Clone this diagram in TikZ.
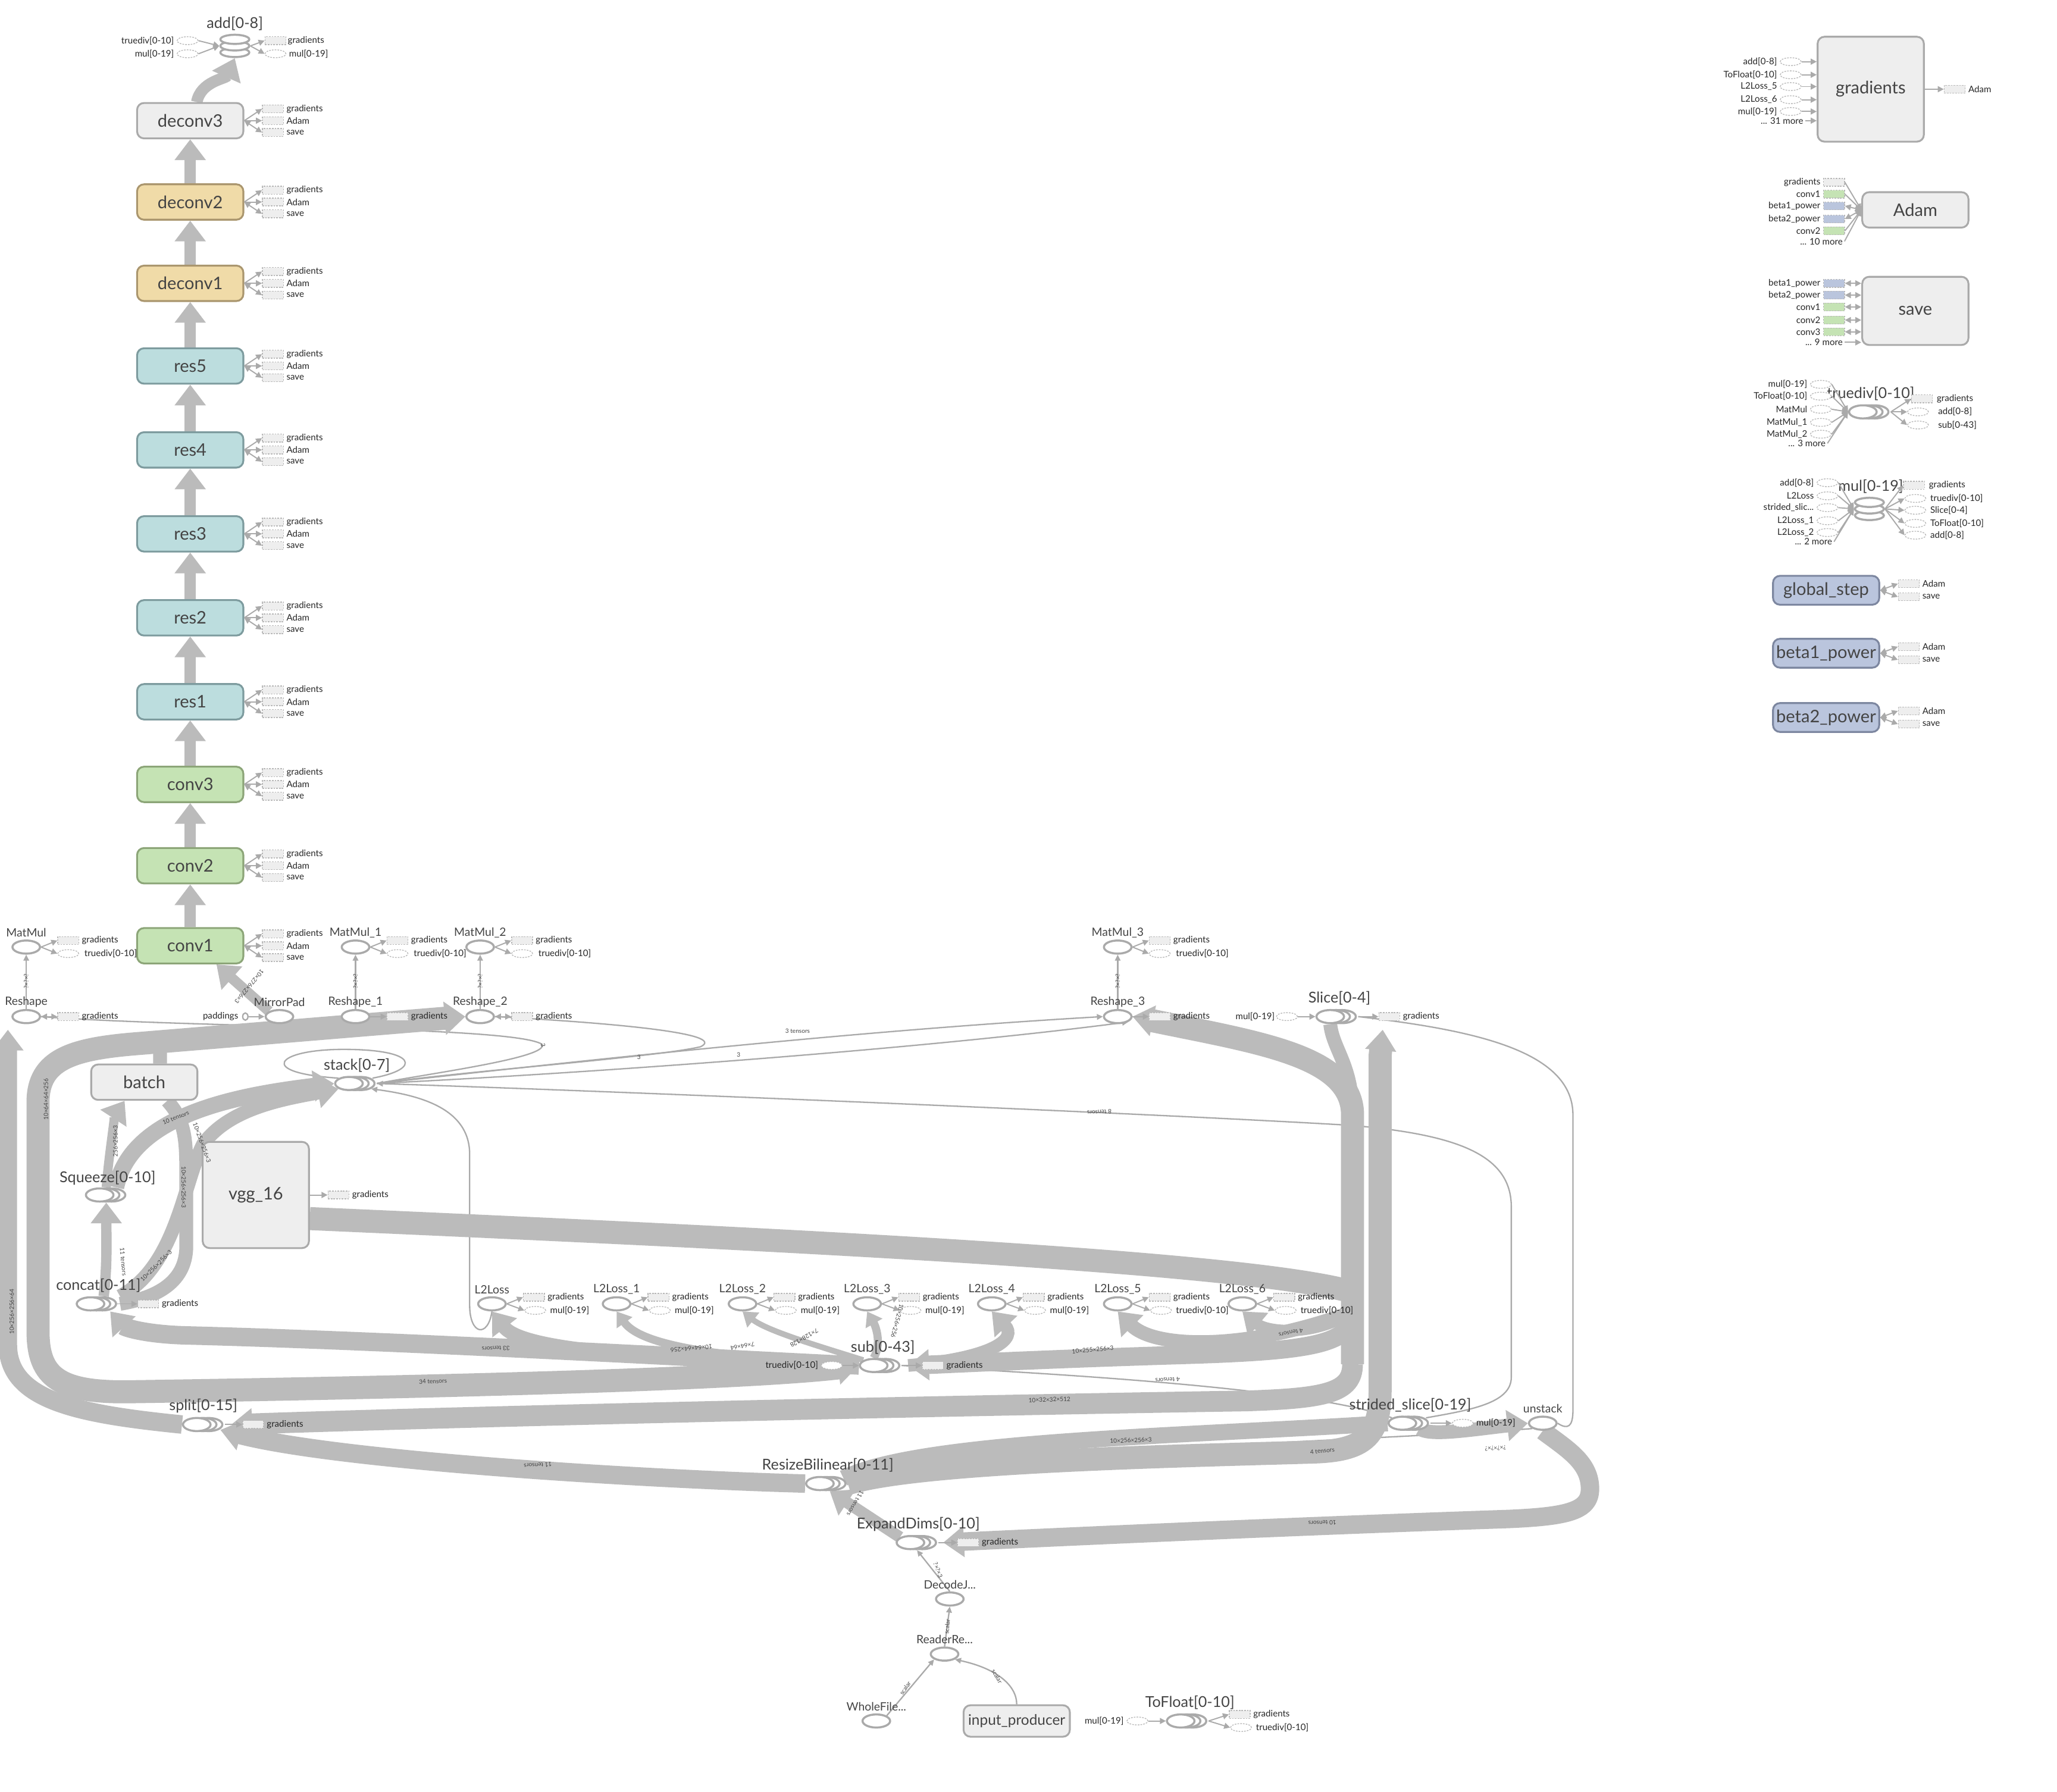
\documentclass[tikz,border=0pt]{standalone}
\usepackage{fontspec}
\setmainfont{Lato}
\usetikzlibrary{arrows.meta,shapes.geometric,backgrounds}

\definecolor{edgecol}{RGB}{187,187,187}
\definecolor{linecol}{RGB}{170,170,170}
\definecolor{boxfill}{RGB}{238,238,238}
\definecolor{boxdraw}{RGB}{170,170,170}
\definecolor{convfill}{RGB}{197,227,180}
\definecolor{convdraw}{RGB}{140,165,120}
\definecolor{tanfill}{RGB}{240,219,168}
\definecolor{tandraw}{RGB}{170,150,110}
\definecolor{resfill}{RGB}{188,221,222}
\definecolor{resdraw}{RGB}{125,155,158}
\definecolor{varfill}{RGB}{186,197,221}
\definecolor{vardraw}{RGB}{125,135,160}
\definecolor{txt}{RGB}{68,68,68}
\definecolor{stubdraw}{RGB}{185,185,185}

% op with a series look (three rings)
\newcommand{\opser}[2]{%
  \node[op, xshift=0.18cm] at (#2) {};
  \node[op, xshift=0.09cm] at (#2) {};
  \node[op] (#1) at (#2) {};}
% op with a stacked look
\newcommand{\opcyl}[2]{%
  \node[op, minimum width=0.44cm, minimum height=0.14cm, yshift=-0.1cm] at (#2) {};
  \node[op, minimum width=0.44cm, minimum height=0.14cm] at (#2) {};
  \node[op, minimum width=0.44cm, minimum height=0.14cm, yshift=0.1cm] at (#2) {};
  \node[minimum width=0.46cm, minimum height=0.36cm, inner sep=0pt] (#1) at (#2) {};}

\begin{document}
\begin{tikzpicture}[x=0.02cm, y=-0.02cm,
  box/.style={rectangle, rounded corners=3pt, draw=boxdraw, fill=boxfill, line width=0.8pt,
    minimum width=1.62cm, minimum height=0.54cm, inner sep=0pt, text=txt, font=\fontsize{7.5}{8}\selectfont},
  op/.style={ellipse, draw=linecol, fill=white, line width=0.9pt, minimum width=0.42cm,
    minimum height=0.2cm, inner sep=0pt},
  oplbl/.style={text=txt, font=\fontsize{6.5}{7}\selectfont, inner sep=0pt},
  oplbls/.style={text=txt, font=\fontsize{5}{6}\selectfont, inner sep=0pt},
  stublbl/.style={text=black!85, font=\fontsize{3.9}{4.5}\selectfont, inner sep=0.6pt},
  stubbox/.style={rectangle, draw=stubdraw, dash pattern=on 0.7pt off 0.5pt, fill=boxfill,
    line width=0.35pt, minimum width=0.32cm, minimum height=0.12cm, inner sep=0pt},
  stubop/.style={ellipse, draw=stubdraw, dash pattern=on 0.7pt off 0.5pt, fill=white,
    line width=0.35pt, minimum width=0.32cm, minimum height=0.12cm, inner sep=0pt},
  band/.style={draw=edgecol, line width=#1},
  bigtip/.style={arrows={-Triangle[length=9pt,width=13pt]}},
  midtip/.style={arrows={-Triangle[length=6pt,width=8pt]}},
  bothtip/.style={arrows={Triangle[length=9pt,width=14pt]-Triangle[length=9pt,width=14pt]}},
  thinline/.style={draw=linecol, line width=0.6pt},
  thintip/.style={arrows={-Triangle[length=2.6pt,width=2.4pt]}},
  backtip/.style={arrows={Triangle[length=2.6pt,width=2.4pt]-}},
  stubarrow/.style={draw=linecol, line width=0.5pt, arrows={-Triangle[length=2.6pt,width=2.6pt]}},
  stubboth/.style={draw=linecol, line width=0.5pt,
    arrows={Triangle[length=2.6pt,width=2.6pt]-Triangle[length=2.6pt,width=2.6pt]}},
  elbl/.style={text=txt, font=\fontsize{2.6}{3}\selectfont, inner sep=0pt}]

\useasboundingbox (0,0) rectangle (1568,1366);

% Layer column
\foreach \n/\y/\f/\d in {conv1/721/convfill/convdraw, conv2/660/convfill/convdraw,
    conv3/598/convfill/convdraw, res1/535/resfill/resdraw, res2/471/resfill/resdraw,
    res3/407/resfill/resdraw, res4/343/resfill/resdraw, res5/279/resfill/resdraw,
    deconv1/216/tanfill/tandraw, deconv2/154/tanfill/tandraw, deconv3/92/boxfill/boxdraw} {
  \node[box, fill=\f, draw=\d] (\n) at (145,\y) {\n};
  \node[stubbox] (\n-g) at (208,\y-9) {};
  \node[stubbox] (\n-a) at (208,\y) {};
  \node[stubbox] (\n-s) at (208,\y+9) {};
  \node[stublbl, anchor=west] at (217,\y-9) {gradients};
  \node[stublbl, anchor=west] at (217,\y) {Adam};
  \node[stublbl, anchor=west] at (217,\y+9) {save};
  \draw[stubarrow] (\n.east) -- (\n-g.west);
  \draw[stubarrow] (\n.east) -- (\n-a.west);
  \draw[stubboth] (\n.east) -- (\n-s.west);
}

% add
\node[oplbl] at (179,18) {add[0-8]};
\opcyl{add}{179,35}
\node[stubop] (add-i1) at (143,31) {};
\node[stubop] (add-i2) at (143,41) {};
\node[stublbl, anchor=east] at (134,31) {truediv[0-10]};
\node[stublbl, anchor=east] at (134,41) {mul[0-19]};
\node[stubbox] (add-o1) at (210,31) {};
\node[stubop] (add-o2) at (210,41) {};
\node[stublbl, anchor=west] at (218,31) {gradients};
\node[stublbl, anchor=west] at (219,41) {mul[0-19]};
\draw[stubarrow] (add-i1.east) -- (add.west);
\draw[stubarrow] (add-i2.east) -- (add.west);
\draw[stubarrow] (add.east) -- (add-o1.west);
\draw[stubarrow] (add.east) -- (add-o2.west);

% gradients
\node[box, minimum height=1.6cm] (gradients) at (1426,68) {gradients};
\foreach \t/\y [count=\i] in {add[0-8]/47, ToFloat[0-10]/57, L2Loss\_5/66, L2Loss\_6/76, mul[0-19]/85} {
  \node[stubop] (gin\i) at (1365,\y) {};
  \node[stublbl, anchor=east] at (1356,\y) {\t};
  \draw[stubarrow] (gin\i.east) -- (gradients.west |- gin\i);
}
\node[stublbl, anchor=east] (gmore) at (1376,92) {... 31 more};
\draw[stubarrow] (gmore.east) -- (gradients.west |- gmore);
\node[stubbox] (gout) at (1490,68) {};
\node[stublbl, anchor=west] at (1499,68) {Adam};
\draw[stubarrow] (gradients.east) -- (gout.west);

% Adam
\node[box] (Adam) at (1460,160) {Adam};
\foreach \t/\y/\f/\s [count=\i] in {gradients/139/boxfill/stubarrow, conv1/148/convfill/stubarrow,
    beta1\_power/157/varfill/stubboth, beta2\_power/167/varfill/stubboth, conv2/176/convfill/stubarrow} {
  \node[stubbox, fill=\f] (ain\i) at (1398,\y) {};
  \node[stublbl, anchor=east] at (1389,\y) {\t};
  \draw[\s] (ain\i.east) -- (Adam.west);
}
\node[stublbl, anchor=east] (amore) at (1406,184) {... 10 more};
\draw[stubarrow] (amore.east) -- (Adam.west);

% save
\node[box, minimum height=1.04cm] (save) at (1460,237) {save};
\foreach \t/\y/\f [count=\i] in {beta1\_power/216/varfill, beta2\_power/225/varfill, conv1/234/convfill,
    conv2/244/convfill, conv3/253/convfill} {
  \node[stubbox, fill=\f] (sin\i) at (1398,\y) {};
  \node[stublbl, anchor=east] at (1389,\y) {\t};
  \draw[stubboth] (sin\i.east) -- (save.west |- sin\i);
}
\node[stublbl, anchor=east] (smore) at (1406,261) {... 9 more};
\draw[stubarrow] (smore.east) -- (save.west |- smore);

% truediv
\node[oplbl] at (1426,300) {truediv[0-10]};
\opser{truediv}{1420,314}
\foreach \t/\y [count=\i] in {mul[0-19]/293, ToFloat[0-10]/302, MatMul/312, MatMul\_1/322, MatMul\_2/331} {
  \node[stubop] (tin\i) at (1388,\y) {};
  \node[stublbl, anchor=east] at (1379,\y) {\t};
  \draw[stubarrow] (tin\i.east) -- (truediv.west);
}
\node[stublbl, anchor=east] (tmore) at (1393,338) {... 3 more};
\draw[stubarrow] (tmore.east) -- (truediv.west);
\node[stubbox] (tout1) at (1465,304) {};
\node[stubop] (tout2) at (1462,314) {};
\node[stubop] (tout3) at (1462,324) {};
\node[stublbl, anchor=west] at (1475,304) {gradients};
\node[stublbl, anchor=west] at (1476,314) {add[0-8]};
\node[stublbl, anchor=west] at (1476,324) {sub[0-43]};
\foreach \i in {1,2,3} \draw[stubarrow] ([xshift=0.2cm]truediv.east) -- (tout\i.west);

% mul
\node[oplbl] at (1426,371) {mul[0-19]};
\opcyl{mul}{1425,388}
\foreach \t/\y [count=\i] in {add[0-8]/368, L2Loss/378, {strided\_slic...}/387, L2Loss\_1/397, L2Loss\_2/406} {
  \node[stubop] (min\i) at (1393,\y) {};
  \node[stublbl, anchor=east] at (1384,\y) {\t};
  \draw[stubarrow] (min\i.east) -- (mul.west);
}
\node[stublbl, anchor=east] (mmore) at (1398,413) {... 2 more};
\draw[stubarrow] (mmore.east) -- (mul.west);
\node[stubbox] (mout1) at (1459,370) {};
\node[stublbl, anchor=west] at (1469,370) {gradients};
\foreach \t/\y [count=\i from 2] in {truediv[0-10]/380, Slice[0-4]/389, ToFloat[0-10]/399, add[0-8]/408} {
  \node[stubop] (mout\i) at (1460,\y) {};
  \node[stublbl, anchor=west] at (1470,\y) {\t};
}
\foreach \i in {1,...,5} \draw[stubarrow] (mul.east) -- (mout\i.west);

% variables
\foreach \n/\t/\y in {global_step/global\_step/450, beta1_power/beta1\_power/498, beta2_power/beta2\_power/547} {
  \node[box, fill=varfill, draw=vardraw, minimum height=0.44cm] (\n) at (1392,\y) {\t};
  \node[stubbox] (\n-a) at (1455,\y-5) {};
  \node[stubbox] (\n-s) at (1455,\y+5) {};
  \node[stublbl, anchor=west] at (1464,\y-5) {Adam};
  \node[stublbl, anchor=west] at (1464,\y+5) {save};
  \draw[stubboth] (\n.east) -- (\n-a.west);
  \draw[stubboth] (\n.east) -- (\n-s.west);
}

% MatMul / Reshape row
\foreach \n/\t/\x in {MatMul/MatMul/20, MatMul_1/MatMul\_1/271, MatMul_2/MatMul\_2/366, MatMul_3/MatMul\_3/852} {
  \node[oplbls] at (\x,711) {\t};
  \node[op] (\n) at (\x,722) {};
  \node[stubbox] (\n-g) at (\x+32,717) {};
  \node[stubop] (\n-t) at (\x+32,727) {};
  \node[stublbl, anchor=west] at (\x+41,717) {gradients};
  \node[stublbl, anchor=west] at (\x+43,727) {truediv[0-10]};
  \draw[stubarrow] (\n.east) -- (\n-g.west);
  \draw[stubarrow] (\n.east) -- (\n-t.west);
}
\foreach \n/\t/\x/\s in {Reshape/Reshape/20/stubboth, Reshape_1/Reshape\_1/271/stubarrow,
    Reshape_2/Reshape\_2/366/stubboth, Reshape_3/Reshape\_3/852/stubarrow} {
  \node[oplbls] at (\x,764) {\t};
  \node[op] (\n) at (\x,775) {};
  \node[stubbox] (\n-g) at (\x+32,775) {};
  \node[stublbl, anchor=west] at (\x+41,775) {gradients};
  \draw[\s] (\n.east) -- (\n-g.west);
}
\node[stublbl, anchor=east] at (183,775) {paddings};
\node[ellipse, draw=linecol, fill=white, line width=0.6pt, minimum width=0.08cm,
  minimum height=0.11cm, inner sep=0pt] (paddings) at (187,775) {};
\node[oplbls] at (213,764) {MirrorPad};
\node[op] (MirrorPad) at (213,775) {};

% Slice
\node[oplbl] at (1021,761) {Slice[0-4]};
\opser{Slice}{1014,775}
\node[stubop] (Slice-i) at (981,775) {};
\node[stublbl, anchor=east] at (973,775) {mul[0-19]};
\node[stubbox] (Slice-g) at (1059,775) {};
\node[stublbl, anchor=west] at (1068,775) {gradients};
\draw[stubarrow] (Slice-i.east) -- (Slice.west);
\draw[stubarrow] ([xshift=0.2cm]Slice.east) -- (Slice-g.west);

% input pipeline
\node[oplbl] at (272,812) {stack[0-7]};
\opser{stack}{266,826}
\node[box] (batch) at (110,825) {batch};
\node[oplbl] at (82,898) {Squeeze[0-10]};
\opser{Squeeze}{76,911}
\node[box, minimum height=1.62cm] (vgg_16) at (195,911) {vgg\_16};
\node[stubbox] (vgg_16-g) at (258,911) {};
\node[stublbl, anchor=west] at (267,911) {gradients};
\draw[stubarrow] (vgg_16.east) -- (vgg_16-g.west);
\node[oplbl] at (75,980) {concat[0-11]};
\opser{concat}{69,994}
\node[stubbox] (concat-g) at (113,994) {};
\node[stublbl, anchor=west] at (122,994) {gradients};
\draw[stubarrow] ([xshift=0.18cm]concat.east) -- (concat-g.west);

% losses
\foreach \n/\t/\x/\o in {L2Loss/L2Loss/375/mul[0-19], L2Loss_1/L2Loss\_1/470/mul[0-19],
    L2Loss_2/L2Loss\_2/566/mul[0-19], L2Loss_3/L2Loss\_3/661/mul[0-19], L2Loss_4/L2Loss\_4/756/mul[0-19],
    L2Loss_5/L2Loss\_5/852/truediv[0-10], L2Loss_6/L2Loss\_6/947/truediv[0-10]} {
  \node[oplbls] at (\x,983) {\t};
  \node[op] (\n) at (\x,994) {};
  \node[stubbox] (\n-g) at (\x+32,989) {};
  \node[stubop] (\n-m) at (\x+33,999) {};
  \node[stublbl, anchor=west] at (\x+41,989) {gradients};
  \node[stublbl, anchor=west] at (\x+43,999) {\o};
  \draw[stubarrow] (\n.east) -- (\n-g.west);
  \draw[stubarrow] (\n.east) -- (\n-m.west);
}
\node[oplbl] at (673,1027) {sub[0-43]};
\opser{sub}{666,1041}
\node[stubop] (sub-i) at (634,1041) {};
\node[stublbl, anchor=east] at (625,1041) {truediv[0-10]};
\node[stubbox] (sub-g) at (711,1041) {};
\node[stublbl, anchor=west] at (720,1041) {gradients};
\draw[stubarrow] (sub-i.east) -- (sub.west);
\draw[stubarrow] ([xshift=0.2cm]sub.east) -- (sub-g.west);

\node[oplbl] at (155,1072) {split[0-15]};
\opser{split}{150,1086}
\node[stubbox] (split-g) at (193,1086) {};
\node[stublbl, anchor=west] at (202,1086) {gradients};
\draw[stubarrow] ([xshift=0.2cm]split.east) -- (split-g.west);

\node[oplbl] at (1075,1071) {strided\_slice[0-19]};
\opser{strided_slice}{1069,1085}
\node[stubop] (strided_slice-m) at (1115,1085) {};
\node[stublbl, anchor=west] at (1124,1085) {mul[0-19]};
\draw[stubarrow] ([xshift=0.2cm]strided_slice.east) -- (strided_slice-m.west);
\node[oplbls] at (1176,1074) {unstack};
\node[op] (unstack) at (1176,1085) {};

\node[oplbl] at (631,1117) {ResizeBilinear[0-11]};
\opser{ResizeBilinear}{625,1131}
\node[oplbl] at (700,1162) {ExpandDims[0-10]};
\opser{ExpandDims}{694,1176}
\node[stubbox] (ExpandDims-g) at (738,1176) {};
\node[stublbl, anchor=west] at (747,1176) {gradients};
\draw[stubarrow] ([xshift=0.2cm]ExpandDims.east) -- (ExpandDims-g.west);
\node[oplbls] at (724,1208) {DecodeJ...};
\node[op] (DecodeJ) at (724,1219) {};
\node[oplbls] at (720,1250) {ReaderRe...};
\node[op] (ReaderRe) at (720,1261) {};
\node[oplbls] at (668,1301) {WholeFile...};
\node[op] (WholeFile) at (668,1312) {};
\node[box, minimum height=0.48cm, font=\fontsize{6.3}{7}\selectfont] (input_producer) at (775,1312) {input\_producer};

% ToFloat
\node[oplbl] at (907,1298) {ToFloat[0-10]};
\opser{ToFloat}{900,1312}
\node[stubop] (ToFloat-i) at (867,1312) {};
\node[stublbl, anchor=east] at (858,1312) {mul[0-19]};
\node[stubbox] (ToFloat-g) at (945,1307) {};
\node[stubop] (ToFloat-t) at (946,1317) {};
\node[stublbl, anchor=west] at (954,1307) {gradients};
\node[stublbl, anchor=west] at (956,1317) {truediv[0-10]};
\draw[stubarrow] (ToFloat-i.east) -- (ToFloat.west);
\draw[stubarrow] ([xshift=0.2cm]ToFloat.east) -- (ToFloat-g.west);
\draw[stubarrow] ([xshift=0.2cm]ToFloat.east) -- (ToFloat-t.west);

% junctions on the right column
\coordinate (colS) at (1031,1000);
\coordinate (colL) at (1031,1040);

\begin{scope}[on background layer]
  % thin connectors
  \foreach \a/\b in {Reshape/MatMul, Reshape_1/MatMul_1, Reshape_2/MatMul_2, Reshape_3/MatMul_3}
    \draw[thinline, thintip] (\a.north) -- (\b.south);
  \draw[thinline, thintip] (paddings.east) -- (MirrorPad.west);
  \draw[thinline] (stack.north west) .. controls (195,818) and (210,800) .. (262,800)
    .. controls (318,800) and (322,815) .. ([xshift=0.2cm]stack.north east);
  \draw[thinline] (Reshape.east) .. controls (150,784) and (390,782) .. (413,796)
    .. controls (420,806) and (330,818) .. ([xshift=0.2cm]stack.east);
  \draw[thinline] (Reshape_2.east) .. controls (470,780) and (555,788) .. (534,798)
    .. controls (500,806) and (360,816) .. ([xshift=0.2cm]stack.east);
  \draw[thinline, thintip] ([xshift=0.2cm]stack.east) .. controls (450,808) and (650,786) .. (Reshape_3.west);
  \draw[thinline, thintip] ([xshift=0.2cm]stack.east) .. controls (450,818) and (700,800) .. (Reshape_3.south east);
  \draw[thinline, backtip] ([xshift=0.2cm]stack.east) .. controls (500,833) and (900,850) .. (1031,858)
    .. controls (1110,865) and (1152,880) .. (1152,920) -- (1152,1050)
    .. controls (1152,1070) and (1120,1075) .. ([xshift=0.2cm]strided_slice.north east);
  \draw[thinline, thintip] (L2Loss.south) .. controls (372,1020) and (358,1018) .. (358,995) -- (358,880)
    .. controls (358,845) and (320,835) .. ([xshift=0.18cm]stack.south east);
  \draw[thinline] ([xshift=0.2cm]Slice.east) .. controls (1120,785) and (1199,800) .. (1199,850)
    -- (1199,1075) .. controls (1199,1088) and (1195,1090) .. (unstack.east);
  \draw[thinline] (unstack.south west) .. controls (1050,1098) and (800,1104) .. ([xshift=0.2cm]ResizeBilinear.north east);
  \draw[thinline] ([xshift=0.2cm]sub.east) .. controls (800,1047) and (1000,1058) .. (strided_slice.north west);
  \draw[thinline, thintip] (WholeFile.north east) -- (ReaderRe.south west);
  \draw[thinline, thintip] (input_producer.north) .. controls (775,1285) and (760,1272) .. (ReaderRe.south east);
  \draw[thinline, thintip] (ReaderRe.north) -- (DecodeJ.south);
  \draw[thinline, thintip] (DecodeJ.north) -- ([xshift=0.1cm]ExpandDims.south);

  % thick tensor flows
  \foreach \a/\b in {conv1/conv2, conv2/conv3, conv3/res1, res1/res2, res2/res3, res3/res4,
      res4/res5, res5/deconv1, deconv1/deconv2, deconv2/deconv3}
    \draw[band=5pt, bigtip] (\a.north) -- (\b.south);
  \draw[band=5pt, bigtip] ([xshift=0.1cm]deconv3.north) .. controls (153,62) and (172,60) .. (add.south);
  \draw[band=4.5pt, bigtip] (MirrorPad.north west) -- ([xshift=0.4cm]conv1.south);
  \draw[band=8pt, bigtip] (split.west) .. controls (60,1078) and (6,1068) .. (6,1025)
    -- ([xshift=-0.28cm,yshift=-0.2cm]Reshape.center);
  \draw[band=10pt, bothtip] (sub.west) .. controls (560,1052) and (300,1058) .. (100,1061)
    .. controls (45,1062) and (29,1050) .. (29,1015) -- (29,840)
    .. controls (29,808) and (55,800) .. (100,796) -- (Reshape_2.west);
  \draw[band=6pt] ([xshift=0.24cm]batch.north) -- (122,797);
  \draw[band=10pt] ([yshift=-0.36cm]vgg_16.east) .. controls (600,945) and (950,962) .. (1031,985);
  \draw[band=10pt, bigtip] (colL) -- (1031,850) .. controls (1031,805) and (960,795) .. (Reshape_3.east);
  \draw[band=6pt] (Slice.south) .. controls (1016,800) and (1031,812) .. (1031,850);
  \draw[band=9pt, bigtip] (colL) .. controls (1031,1062) and (1010,1066) .. (950,1068)
    .. controls (700,1072) and (350,1080) .. ([xshift=0.3cm]split.east);
  \draw[band=8pt, bigtip] (colS) .. controls (1031,1025) and (1000,1030) .. (900,1033)
    .. controls (800,1036) and (720,1040) .. ([xshift=0.3cm]sub.east);
  \draw[band=10pt, bigtip] ([xshift=0.2cm]ResizeBilinear.east) .. controls (700,1114) and (900,1110) .. (1000,1107)
    .. controls (1040,1106) and (1052,1095) .. (1052,1060) -- (1052,805)
    -- ([xshift=0.8cm,yshift=-0.2cm]Slice.center);
  \draw[band=7pt] ([xshift=0.2cm]ResizeBilinear.north east) .. controls (700,1098) and (900,1095) .. (strided_slice.west);
  \draw[band=6pt, bigtip] ([xshift=0.1cm]strided_slice.south east) .. controls (1090,1095) and (1120,1090) .. (unstack.west);
  \draw[band=8pt, bigtip] (unstack.south) .. controls (1195,1105) and (1212,1115) .. (1212,1135)
    .. controls (1212,1152) and (1195,1156) .. (1150,1158)
    .. controls (1000,1163) and (800,1172) .. ([xshift=0.5cm]ExpandDims.center);
  \draw[band=5pt, bigtip] (ExpandDims.north west) -- ([xshift=0.15cm]ResizeBilinear.south);
  \draw[band=8pt, bigtip] (ResizeBilinear.west) .. controls (500,1128) and (260,1114) .. ([xshift=0.2cm]split.south east);
  \draw[band=8pt, bigtip] (sub.west) .. controls (550,1036) and (300,1022) .. (140,1018)
    .. controls (110,1017) and (95,1012) .. ([xshift=0.3cm]concat.south);
  \draw[band=6pt, bigtip] (sub.west) .. controls (520,1036) and (400,1032) .. (L2Loss.south);
  \draw[band=3.5pt, midtip] (sub.west) .. controls (560,1035) and (490,1028) .. (L2Loss_1.south);
  \draw[band=2.5pt, midtip] (sub.north west) .. controls (630,1028) and (585,1015) .. (L2Loss_2.south);
  \draw[band=3.5pt, midtip] (sub.north) .. controls (672,1025) and (668,1012) .. (L2Loss_3.south);
  \draw[band=5.5pt, bigtip] ([xshift=0.3cm]sub.east) .. controls (760,1035) and (775,1020) .. (L2Loss_4.south);
  \draw[band=6pt, bigtip] (colS) .. controls (950,1030) and (880,1028) .. (L2Loss_5.south);
  \draw[band=5pt, bigtip] (colS) .. controls (1000,1020) and (965,1015) .. (L2Loss_6.south);
  \draw[band=4pt, bigtip] ([xshift=0.1cm]Squeeze.north) .. controls (83,880) and (88,850) .. ([xshift=-0.3cm]batch.south);
  \draw[band=4.5pt, bigtip] ([xshift=0.2cm]concat.north) .. controls (82,965) and (81,940) .. ([xshift=0.1cm]Squeeze.south);
  \draw[band=7pt, bigtip] ([xshift=0.25cm]Squeeze.north) .. controls (100,850) and (180,835) .. (stack.west);
  \draw[band=6pt] ([xshift=0.35cm]batch.south) .. controls (142,855) and (142,870) .. (142,900) -- (142,950)
    .. controls (142,980) and (115,990) .. ([xshift=0.45cm]concat.center);
  \draw[band=6pt, bigtip] ([xshift=0.45cm]concat.north) .. controls (135,965) and (140,900) .. (155,872)
    .. controls (175,845) and (215,838) .. (stack.south west);
\end{scope}

% edge labels
\foreach \x in {20,271,366,852} \node[elbl, rotate=90] at (\x,748) {?×?×?};
\node[elbl, rotate=90] at (9,1000) {10×256×256×64};
\node[elbl, rotate=90] at (35,838) {10×64×64×256};
\node[elbl, rotate=-130] at (190,752) {10×276×276×3};
\node[elbl, rotate=182] at (378,1028) {33 tensors};
\node[elbl, rotate=2] at (330,1053) {34 tensors};
\node[elbl, rotate=183] at (410,1117) {11 tensors};
\node[elbl, rotate=182] at (1008,1161) {10 tensors};
\node[elbl, rotate=2] at (800,1067) {10×32×32×512};
\node[elbl, rotate=2] at (862,1098) {10×256×256×3};
\node[elbl, rotate=6] at (1008,1106) {4 tensors};
\node[elbl, rotate=5] at (833,1029) {10×255×256×3};
\node[elbl, rotate=192] at (984,1016) {4 tensors};
\node[elbl, rotate=183] at (890,1052) {4 tensors};
\node[elbl, rotate=183] at (838,848) {8 tensors};
\node[elbl] at (608,786) {3 tensors};
\node[elbl, rotate=-80] at (414,797) {3};
\node[elbl] at (487,806) {3};
\node[elbl] at (563,804) {3};
\node[elbl, rotate=185] at (527,1028) {10×64×64×256};
\node[elbl, rotate=190] at (566,1026) {7×64×64};
\node[elbl, rotate=210] at (613,1020) {7×128×128};
\node[elbl, rotate=-105] at (684,1007) {10×256×256};
\node[elbl, rotate=90] at (88,870) {256×256×3};
\node[elbl, rotate=-85] at (94,962) {11 tensors};
\node[elbl, rotate=22] at (134,852) {10 tensors};
\node[elbl, rotate=-90] at (140,905) {10×256×256×3};
\node[elbl, rotate=-70] at (154,871) {10×256×256×3};
\node[elbl, rotate=45] at (119,965) {10×256×256×3};
\node[elbl, rotate=183] at (1140,1104) {?×?×?×?};
\node[elbl, rotate=-120] at (652,1146) {11 tensors};
\node[elbl, rotate=-70] at (715,1197) {?×?×3};
\node[elbl, rotate=85] at (722,1240) {scalar};
\node[elbl, rotate=55] at (690,1287) {scalar};
\node[elbl, rotate=-60] at (760,1278) {scalar};
\end{tikzpicture}
\end{document}
